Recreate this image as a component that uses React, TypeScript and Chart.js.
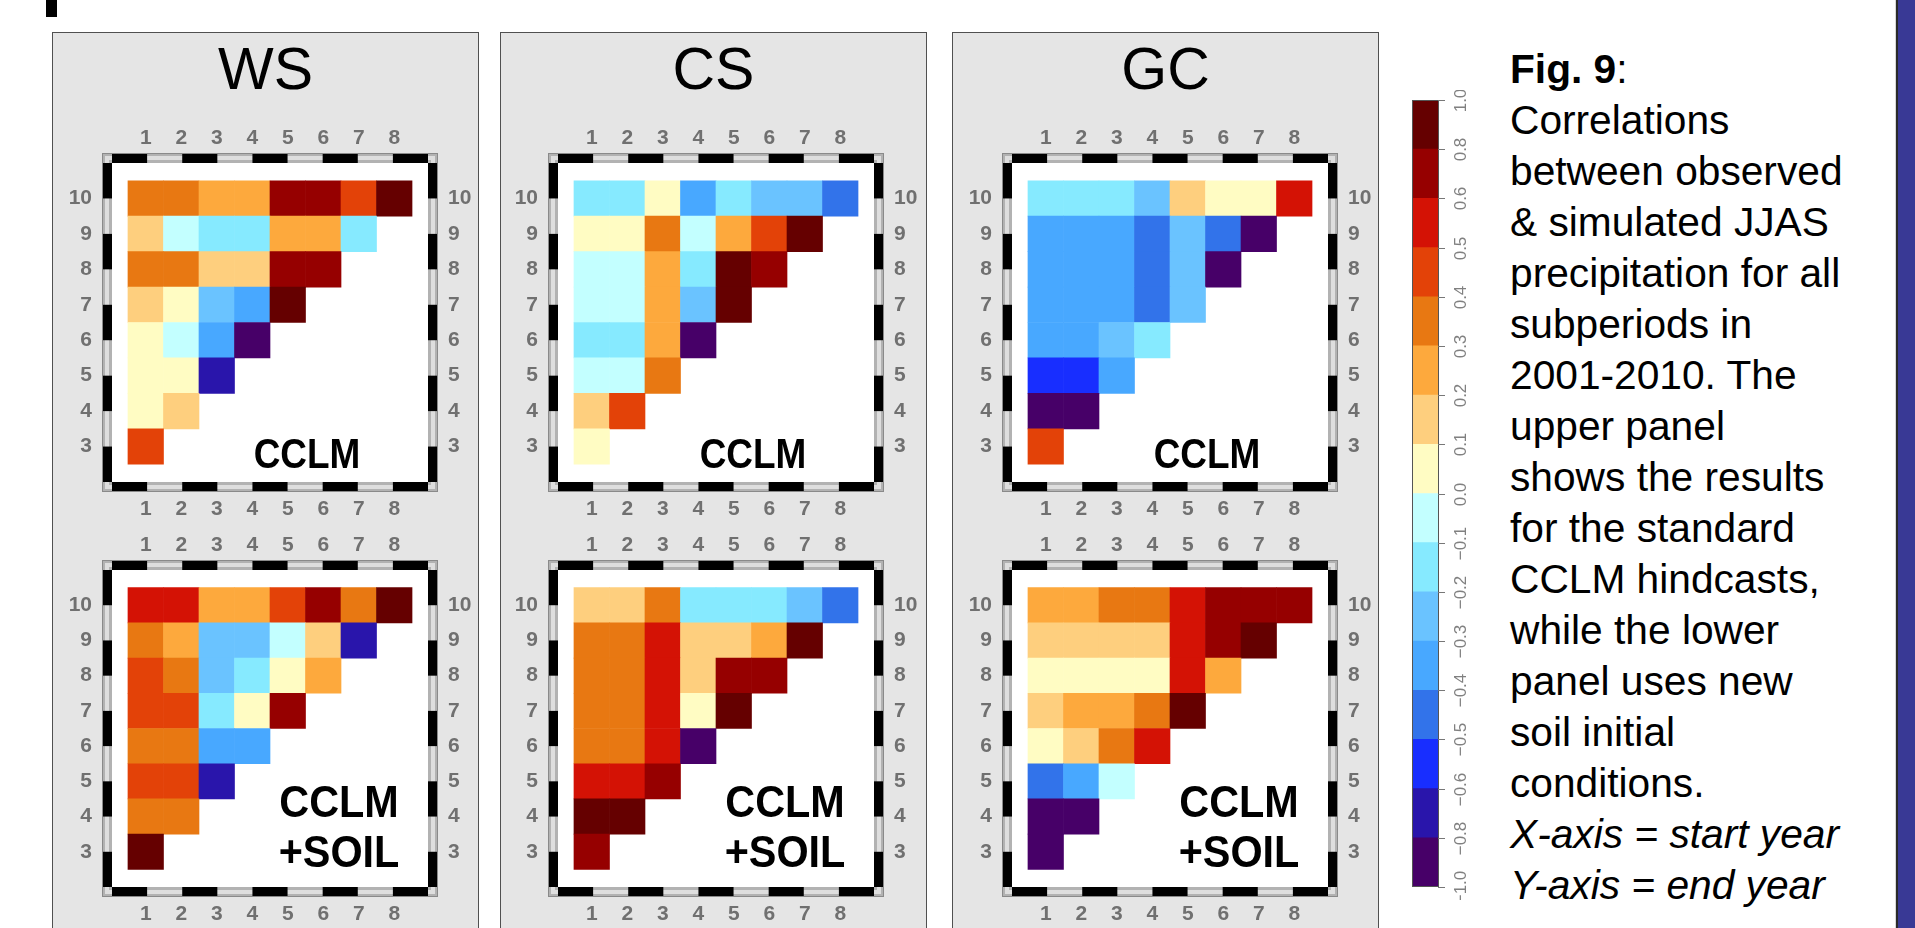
import React, { useEffect, useRef } from 'react';
import { Chart, registerables } from 'chart.js';

Chart.register(...registerables);

const FONT = '"Liberation Sans", Arial, Helvetica, sans-serif';

// ---- colour scale -------------------------------------------------------
const LEVELS = [-1, -0.8, -0.6, -0.5, -0.4, -0.3, -0.2, -0.1, 0, 0.1, 0.2, 0.3, 0.4, 0.5, 0.6, 0.8, 1.0];
const LEVEL_COLORS = [
  '#470068', '#2915ab', '#182eff', '#3273ea', '#48a8ff', '#6ac3ff', '#86eaff', '#c3ffff',
  '#fffcc3', '#fecf7e', '#fda93d', '#e87812', '#e34208', '#d41205', '#960000', '#650000',
];
const CB_LABELS = ['−1.0', '−0.8', '−0.6', '−0.5', '−0.4', '−0.3', '−0.2', '−0.1', '0.0', '0.1', '0.2', '0.3', '0.4', '0.5', '0.6', '0.8', '1.0'];

// ---- axes ----------------------------------------------------------------
const START_YEARS = [1, 2, 3, 4, 5, 6, 7, 8];
const END_YEARS = [10, 9, 8, 7, 6, 5, 4, 3]; // rows, top to bottom
const X_TICK_LABELS = ['1', '2', '3', '4', '5', '6', '7', '8'];
const Y_TICK_LABELS = ['10', '9', '8', '7', '6', '5', '4', '3'];

const REGIONS = ['WS', 'CS', 'GC'];
const RUN_UPPER = ['CCLM'];
const RUN_LOWER = ['CCLM', '+SOIL'];

// ---- correlations (rows: end year 10 -> 3, cols: start year 1 -> ) --------
const WS_CCLM = [
  [0.35, 0.35, 0.25, 0.25, 0.7, 0.7, 0.45, 0.9],
  [0.15, -0.05, -0.15, -0.15, 0.25, 0.25, -0.15],
  [0.35, 0.35, 0.15, 0.15, 0.7, 0.7],
  [0.15, 0.05, -0.25, -0.35, 0.9],
  [0.05, -0.05, -0.35, -0.9],
  [0.05, 0.05, -0.7],
  [0.05, 0.15],
  [0.45],
];
const WS_SOIL = [
  [0.55, 0.55, 0.25, 0.25, 0.45, 0.7, 0.35, 0.9],
  [0.35, 0.25, -0.25, -0.25, -0.05, 0.15, -0.7],
  [0.45, 0.35, -0.25, -0.15, 0.05, 0.25],
  [0.45, 0.45, -0.15, 0.05, 0.7],
  [0.35, 0.35, -0.35, -0.35],
  [0.45, 0.45, -0.7],
  [0.35, 0.35],
  [0.9],
];
const CS_CCLM = [
  [-0.15, -0.15, 0.05, -0.35, -0.15, -0.25, -0.25, -0.45],
  [0.05, 0.05, 0.35, -0.05, 0.25, 0.45, 0.9],
  [-0.05, -0.05, 0.25, -0.15, 0.9, 0.7],
  [-0.05, -0.05, 0.25, -0.25, 0.9],
  [-0.15, -0.15, 0.25, -0.9],
  [-0.05, -0.05, 0.35],
  [0.15, 0.45],
  [0.05],
];
const CS_SOIL = [
  [0.15, 0.15, 0.35, -0.15, -0.15, -0.15, -0.25, -0.45],
  [0.35, 0.35, 0.55, 0.15, 0.15, 0.25, 0.9],
  [0.35, 0.35, 0.55, 0.15, 0.7, 0.7],
  [0.35, 0.35, 0.55, 0.05, 0.9],
  [0.35, 0.35, 0.55, -0.9],
  [0.55, 0.55, 0.7],
  [0.9, 0.9],
  [0.7],
];
const GC_CCLM = [
  [-0.15, -0.15, -0.15, -0.25, 0.15, 0.05, 0.05, 0.55],
  [-0.35, -0.35, -0.35, -0.45, -0.25, -0.45, -0.9],
  [-0.35, -0.35, -0.35, -0.45, -0.25, -0.9],
  [-0.35, -0.35, -0.35, -0.45, -0.25],
  [-0.35, -0.35, -0.25, -0.15],
  [-0.55, -0.55, -0.35],
  [-0.9, -0.9],
  [0.45],
];
const GC_SOIL = [
  [0.25, 0.25, 0.35, 0.35, 0.55, 0.7, 0.7, 0.7],
  [0.15, 0.15, 0.15, 0.15, 0.55, 0.7, 0.9],
  [0.05, 0.05, 0.05, 0.05, 0.55, 0.25],
  [0.15, 0.25, 0.25, 0.35, 0.9],
  [0.05, 0.15, 0.35, 0.55],
  [-0.45, -0.35, -0.05],
  [-0.9, -0.9],
  [-0.9],
];

const UPPER_DATA = [WS_CCLM, CS_CCLM, GC_CCLM];
const LOWER_DATA = [WS_SOIL, CS_SOIL, GC_SOIL];

const CAPTION_LINES = [
  'Correlations',
  'between observed',
  '& simulated JJAS',
  'precipitation for all',
  'subperiods in',
  '2001-2010. The',
  'upper panel',
  'shows the results',
  'for the standard',
  'CCLM hindcasts,',
  'while the lower',
  'panel uses new',
  'soil initial',
  'conditions.',
];
const AXIS_NOTES = ['X-axis = start year', 'Y-axis = end year'];

// ---- layout --------------------------------------------------------------
const BOX_LEFT = [52, 500, 952];
const CHART_LEFT = [112, 558, 1012];
const CHART_W = 316;
const UPPER_TOP = 163;
const UPPER_H = 319;
const LOWER_TOP = 570;
const LOWER_H = 317;
const AX_L = 60;
const AX_R = 55;
const AX_T = 45;
const AX_B = 45;

function colorFor(v: number): string {
  for (let i = 0; i < LEVEL_COLORS.length; i++) {
    if (v >= LEVELS[i] && v < LEVELS[i + 1]) return LEVEL_COLORS[i];
  }
  return v >= 1 ? LEVEL_COLORS[LEVEL_COLORS.length - 1] : LEVEL_COLORS[0];
}

const framePlugin = {
  id: 'frame',
  beforeDraw(chart: any) {
    const { ctx, chartArea: a } = chart;
    ctx.save();
    ctx.fillStyle = '#ffffff';
    ctx.fillRect(a.left, a.top, a.right - a.left, a.bottom - a.top);
    ctx.restore();
  },
  afterDraw(chart: any) {
    const { ctx, chartArea: a } = chart;
    const t = 10;
    const w = a.right - a.left;
    const h = a.bottom - a.top;
    ctx.save();
    ctx.fillStyle = '#b2b2b2';
    ctx.fillRect(a.left - t, a.top - t, w + 2 * t, t);
    ctx.fillRect(a.left - t, a.bottom, w + 2 * t, t);
    ctx.fillRect(a.left - t, a.top, t, h);
    ctx.fillRect(a.right, a.top, t, h);
    ctx.strokeStyle = '#dedede';
    ctx.lineWidth = 4;
    ctx.strokeRect(a.left - t / 2, a.top - t / 2, w + t, h + t);
    ctx.fillStyle = '#000000';
    const n = 9;
    for (let i = 0; i < n; i += 2) {
      ctx.fillRect(a.left + (i * w) / n, a.top - t, w / n, t);
      ctx.fillRect(a.left + (i * w) / n, a.bottom, w / n, t);
      ctx.fillRect(a.left - t, a.top + (i * h) / n, t, h / n);
      ctx.fillRect(a.right, a.top + (i * h) / n, t, h / n);
    }
    ctx.strokeStyle = '#8a8a8a';
    ctx.lineWidth = 1;
    ctx.strokeRect(a.left - t + 0.5, a.top - t + 0.5, w + 2 * t - 1, h + 2 * t - 1);
    ctx.restore();
  },
};

const TICK_COLOR = '#707070';
const tickFont = { family: FONT, size: 21, weight: 'bold' };

function xAxis(position: string, padding: number, size: number) {
  return {
    type: 'linear',
    axis: 'x',
    position,
    min: 0.05,
    max: 8.95,
    offset: false,
    grid: { display: false, drawTicks: false },
    border: { display: false },
    ticks: {
      stepSize: 1,
      includeBounds: false,
      autoSkip: false,
      maxRotation: 0,
      minRotation: 0,
      padding,
      color: TICK_COLOR,
      font: tickFont,
      callback: (v: number) => {
        const i = START_YEARS.indexOf(v);
        return i >= 0 ? X_TICK_LABELS[i] : '';
      },
    },
    afterFit: (s: any) => {
      s.height = size;
    },
  };
}

function yAxis(position: string, size: number) {
  return {
    type: 'linear',
    axis: 'y',
    position,
    min: 2,
    max: 11,
    offset: false,
    grid: { display: false, drawTicks: false },
    border: { display: false },
    ticks: {
      stepSize: 1,
      includeBounds: false,
      autoSkip: false,
      padding: 20,
      color: TICK_COLOR,
      font: tickFont,
      callback: (v: number) => {
        const i = END_YEARS.indexOf(v);
        return i >= 0 ? Y_TICK_LABELS[i] : '';
      },
    },
    afterFit: (s: any) => {
      s.width = size;
    },
  };
}

function Heatmap(props: { values: number[][]; left: number; top: number; height: number; lines: string[]; lower: boolean }) {
  const { values, left, top, height, lines, lower } = props;
  const ref = useRef<HTMLCanvasElement>(null);
  useEffect(() => {
    const cells: any[] = [];
    values.forEach((row, r) => {
      const end = END_YEARS[r];
      row.forEach((v, c) => cells.push({ x: START_YEARS[c], y: [end - 0.5, end + 0.5], v }));
    });
    const labelPlugin = {
      id: 'runLabel',
      afterDraw(chart: any) {
        const { ctx, chartArea: a } = chart;
        const size = lower ? 44 : 42;
        const sx = lower ? 0.94 : 0.88;
        const cx = a.left + (lower ? 227 : 195);
        const base = lower ? [247, 297] : [305];
        ctx.save();
        ctx.fillStyle = '#000';
        ctx.textAlign = 'center';
        ctx.textBaseline = 'alphabetic';
        ctx.font = `bold ${size}px ${FONT}`;
        lines.forEach((txt, i) => {
          ctx.save();
          ctx.translate(cx, a.top + base[i]);
          ctx.scale(sx, 1);
          ctx.fillText(txt, 0, 0);
          ctx.restore();
        });
        ctx.restore();
      },
    };
    const chart = new Chart(ref.current as HTMLCanvasElement, {
      type: 'bar',
      data: {
        datasets: [
          {
            data: cells,
            backgroundColor: (c: any) => (c.raw ? colorFor(c.raw.v) : '#fff'),
            borderWidth: 0,
            barPercentage: 1,
            categoryPercentage: 1,
            xAxisID: 'x',
            yAxisID: 'y',
          } as any,
        ],
      },
      options: {
        animation: false,
        responsive: false,
        maintainAspectRatio: false,
        layout: { padding: 0 },
        plugins: { legend: { display: false }, tooltip: { enabled: false }, title: { display: false } },
        scales: {
          x: xAxis('bottom', 15, AX_B),
          x2: xAxis('top', 12, AX_T),
          y: yAxis('left', AX_L),
          y2: yAxis('right', AX_R),
        } as any,
      },
      plugins: [framePlugin, labelPlugin],
    });
    return () => chart.destroy();
  }, []);
  return (
    <canvas
      ref={ref}
      width={AX_L + CHART_W + AX_R}
      height={AX_T + height + AX_B}
      style={{ position: 'absolute', left: left - AX_L, top: top - AX_T }}
    />
  );
}

function ColorBar() {
  const ref = useRef<HTMLCanvasElement>(null);
  useEffect(() => {
    const cbPlugin = {
      id: 'cbTicks',
      afterDraw(chart: any) {
        const { ctx, chartArea: a } = chart;
        const ys = chart.scales.y;
        ctx.save();
        ctx.strokeStyle = '#555';
        ctx.lineWidth = 1;
        ctx.strokeRect(a.left + 0.5, a.top + 0.5, a.right - a.left - 1, a.bottom - a.top - 1);
        ctx.strokeStyle = '#777';
        ctx.fillStyle = '#808080';
        ctx.font = `17px ${FONT}`;
        ctx.textAlign = 'center';
        ctx.textBaseline = 'middle';
        CB_LABELS.forEach((lab, i) => {
          const y = Math.round(ys.getPixelForValue(i)) + 0.5;
          ctx.beginPath();
          ctx.moveTo(a.right - 1, y);
          ctx.lineTo(a.right + 6, y);
          ctx.stroke();
          ctx.save();
          ctx.translate(a.right + 22, y);
          ctx.rotate(-Math.PI / 2);
          ctx.fillText(lab, 0, 0);
          ctx.restore();
        });
        ctx.restore();
      },
    };
    const chart = new Chart(ref.current as HTMLCanvasElement, {
      type: 'bar',
      data: {
        labels: [''],
        datasets: LEVEL_COLORS.map((c, i) => ({
          data: [[i, i + 1]],
          backgroundColor: c,
          borderWidth: 0,
          barPercentage: 1,
          categoryPercentage: 1,
          grouped: false,
        })) as any,
      },
      options: {
        animation: false,
        responsive: false,
        maintainAspectRatio: false,
        layout: { padding: { left: 12, top: 10, right: 51, bottom: 13 } },
        plugins: { legend: { display: false }, tooltip: { enabled: false } },
        scales: {
          x: { display: false },
          y: { display: false, min: 0, max: LEVEL_COLORS.length },
        },
      },
      plugins: [cbPlugin],
    });
    return () => chart.destroy();
  }, []);
  return <canvas ref={ref} width={90} height={810} style={{ position: 'absolute', left: 1400, top: 90 }} />;
}

export default function App() {
  return (
    <div
      style={{
        position: 'absolute',
        left: 0,
        top: 0,
        width: 1915,
        height: 928,
        overflow: 'hidden',
        background: '#ffffff',
        fontFamily: FONT,
      }}
    >
      <div style={{ position: 'absolute', left: 46, top: 0, width: 11, height: 17, background: '#000' }} />
      {REGIONS.map((name, k) => (
        <div
          key={name}
          style={{
            position: 'absolute',
            left: BOX_LEFT[k],
            top: 32,
            width: 427,
            height: 920,
            boxSizing: 'border-box',
            background: '#e5e5e5',
            border: '1px solid #505050',
          }}
        />
      ))}
      {REGIONS.map((name, k) => (
        <div
          key={'t' + name}
          style={{
            position: 'absolute',
            left: BOX_LEFT[k],
            top: 40,
            width: 427,
            textAlign: 'center',
            fontSize: 59,
            lineHeight: '59px',
            color: '#000',
          }}
        >
          {name}
        </div>
      ))}
      {REGIONS.map((name, k) => (
        <Heatmap
          key={'u' + name}
          values={UPPER_DATA[k]}
          left={CHART_LEFT[k]}
          top={UPPER_TOP}
          height={UPPER_H}
          lines={RUN_UPPER}
          lower={false}
        />
      ))}
      {REGIONS.map((name, k) => (
        <Heatmap
          key={'l' + name}
          values={LOWER_DATA[k]}
          left={CHART_LEFT[k]}
          top={LOWER_TOP}
          height={LOWER_H}
          lines={RUN_LOWER}
          lower={true}
        />
      ))}
      <ColorBar />
      <div
        style={{
          position: 'absolute',
          left: 1510,
          top: 44,
          fontSize: 40.7,
          lineHeight: '51px',
          color: '#000',
          whiteSpace: 'nowrap',
        }}
      >
        <div>
          <b>Fig. 9</b>:
        </div>
        {CAPTION_LINES.map((l) => (
          <div key={l}>{l}</div>
        ))}
        {AXIS_NOTES.map((l) => (
          <div key={l} style={{ fontStyle: 'italic' }}>
            {l}
          </div>
        ))}
      </div>
      <div style={{ position: 'absolute', left: 1895, top: 0, width: 1, height: 928, background: '#d8d8d8' }} />
      <div style={{ position: 'absolute', left: 1896, top: 0, width: 2, height: 928, background: '#2a2a2a' }} />
      <div style={{ position: 'absolute', left: 1898, top: 0, width: 17, height: 928, background: '#393995' }} />
    </div>
  );
}
